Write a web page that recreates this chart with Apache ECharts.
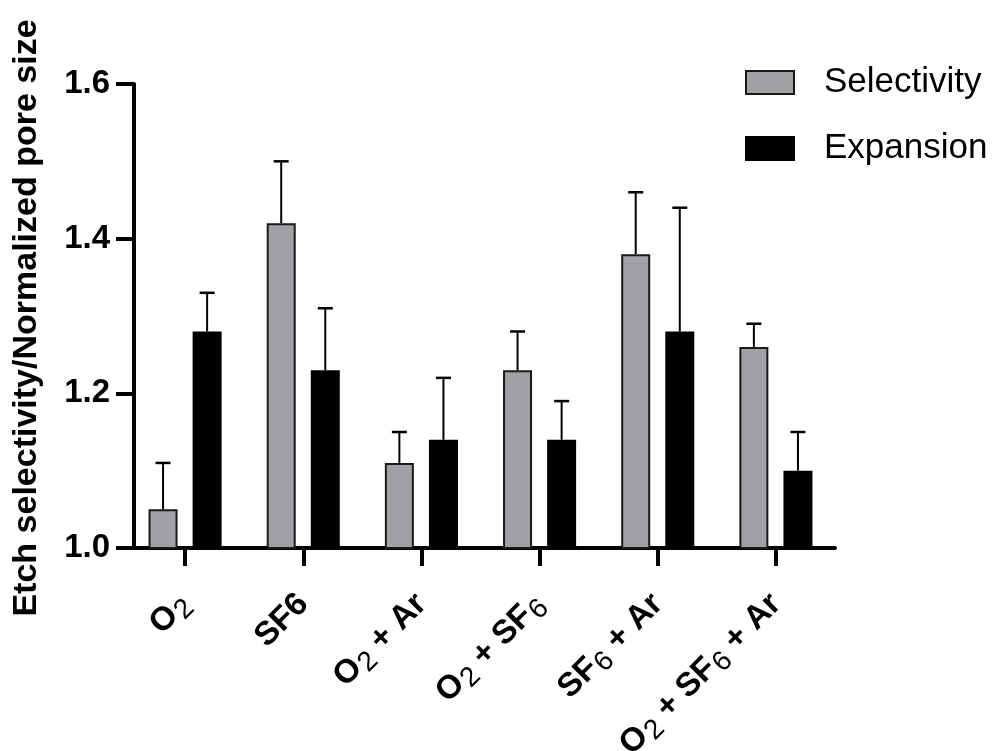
<!DOCTYPE html>
<html>
<head>
<meta charset="utf-8">
<script src="https://cdn.jsdelivr.net/npm/echarts@6/dist/echarts.min.js"></script>
<style>html,body{margin:0;padding:0;background:#fff}#c{width:998px;height:751px}</style>
</head>
<body>
<div id="c"></div>
<script>
// Data
const categories = ['{b|O}{s|2}', '{b|SF6}', '{b|O}{s|2}{b| + Ar}', '{b|O}{s|2}{b| + SF}{s|6}', '{b|SF}{s|6}{b| + Ar}', '{b|O}{s|2}{b| + SF}{s|6}{b| + Ar}'];
const selectivity = [1.05, 1.42, 1.11, 1.23, 1.38, 1.26];
const selectivityErrTop = [1.11, 1.50, 1.15, 1.28, 1.46, 1.29];
const expansion = [1.28, 1.23, 1.14, 1.14, 1.28, 1.10];
const expansionErrTop = [1.33, 1.31, 1.22, 1.19, 1.44, 1.15];
const yTicks = [1.0, 1.2, 1.4, 1.6];

const FONT = '"Liberation Sans", Arial, Helvetica, sans-serif';
const BAR_W = 29;
const GAP_RATIO = 0.52;
const OFF = (BAR_W + BAR_W * GAP_RATIO) / 2;

function errSeries(vals, tops, dir) {
  return {
    type: 'custom',
    silent: true,
    z: 3,
    data: vals.map((v, i) => [i, v, tops[i]]),
    renderItem: function (params, api) {
      const base = api.coord([api.value(0), api.value(1)]);
      const top = api.coord([api.value(0), api.value(2)]);
      const x = base[0] + dir * OFF;
      const cap = 7.5;
      return {
        type: 'group',
        children: [
          { type: 'line', shape: { x1: x, y1: base[1], x2: x, y2: top[1] }, style: { stroke: '#000', lineWidth: 2 } },
          { type: 'line', shape: { x1: x - cap, y1: top[1], x2: x + cap, y2: top[1] }, style: { stroke: '#000', lineWidth: 2.5 } }
        ]
      };
    }
  };
}

const chart = echarts.init(document.getElementById('c'), null, { renderer: 'canvas' });
chart.setOption({
  animation: false,
  backgroundColor: '#fff',
  textStyle: { fontFamily: FONT },
  grid: { left: 126, right: 163, top: 84, bottom: 203, containLabel: false, outerBoundsMode: 'none' },
  legend: {
    orient: 'vertical',
    left: 745,
    top: 65,
    icon: 'rect',
    itemWidth: 48,
    itemHeight: 23,
    itemGap: 31,
    padding: 0,
    selectedMode: false,
    textStyle: { fontFamily: FONT, fontSize: 35, color: '#000', padding: [0, 0, 0, 25] },
    data: ['Selectivity', 'Expansion']
  },
  xAxis: {
    type: 'category',
    data: categories,
    axisLine: { lineStyle: { color: '#000', width: 4 } },
    axisTick: { show: true, alignWithLabel: true, length: 18, lineStyle: { color: '#000', width: 4 } },
    axisLabel: {
      interval: 0,
      rotate: 45,
      margin: 51,
      verticalAlign: 'middle',
      color: '#000',
      rich: {
        b: { fontFamily: FONT, fontWeight: 'bold', fontSize: 33, color: '#000' },
        s: { fontFamily: FONT, fontWeight: 'normal', fontSize: 28, color: '#000', padding: [14, 0, 0, 1] }
      }
    }
  },
  yAxis: {
    type: 'value',
    min: 1.0,
    max: 1.6,
    interval: 0.2,
    offset: -8,
    splitLine: { show: false },
    axisLine: { show: true, lineStyle: { color: '#000', width: 4 } },
    axisTick: { show: true, length: 18, lineStyle: { color: '#000', width: 4 } },
    axisLabel: {
      margin: 24,
      color: '#000',
      fontFamily: FONT,
      fontWeight: 'bold',
      fontSize: 33,
      formatter: v => yTicks.includes(Math.round(v * 10) / 10) ? v.toFixed(1) : ''
    }
  },
  graphic: [{
    type: 'text',
    x: 27,
    y: 318,
    rotation: Math.PI / 2,
    style: {
      text: 'Etch selectivity/Normalized pore size',
      font: 'bold 34px ' + FONT,
      fill: '#000',
      align: 'center',
      verticalAlign: 'middle'
    }
  }],
  series: [
    {
      name: 'Selectivity',
      type: 'bar',
      data: selectivity,
      barWidth: BAR_W,
      barGap: (GAP_RATIO * 100) + '%',
      itemStyle: { color: '#a1a0a5', borderColor: '#1a1a1a', borderWidth: 2 }
    },
    {
      name: 'Expansion',
      type: 'bar',
      data: expansion,
      barWidth: BAR_W,
      barGap: (GAP_RATIO * 100) + '%',
      itemStyle: { color: '#000', borderColor: '#000', borderWidth: 2 }
    },
    errSeries(selectivity, selectivityErrTop, -1),
    errSeries(expansion, expansionErrTop, 1)
  ]
});
</script>
</body>
</html>
